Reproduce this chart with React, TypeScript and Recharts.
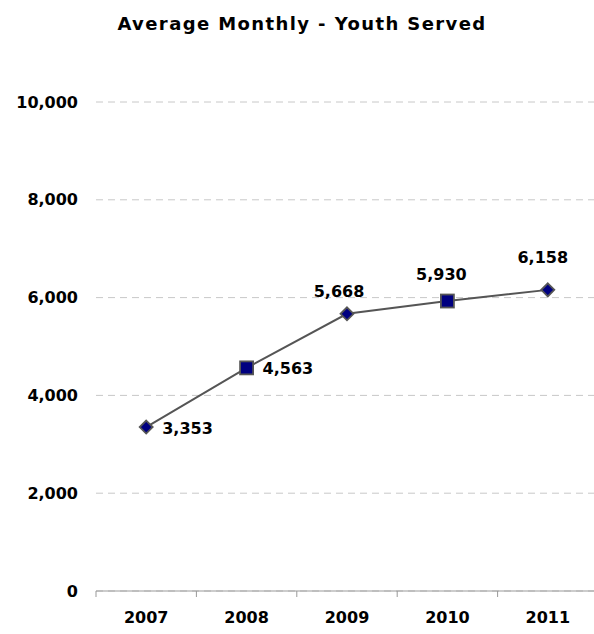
import React from "react";
import {
  LineChart,
  Line,
  XAxis,
  YAxis,
  CartesianGrid,
  LabelList,
} from "recharts";

const years = ["2007", "2008", "2009", "2010", "2011"];
const youthServed = [3353, 4563, 5668, 5930, 6158];
const yTicks = [0, 2000, 4000, 6000, 8000, 10000];
const markerShapes = ["diamond", "square", "diamond", "square", "diamond"];

const data = years.map((year, i) => ({ year, value: youthServed[i] }));

const FONT = "'DejaVu Sans', sans-serif";
const CHART_W = 610;
const CHART_H = 634;
const MARGIN = { top: 102, right: 12, bottom: 13, left: 0 };
const Y_AXIS_W = 96;
const BAND = (CHART_W - MARGIN.left - MARGIN.right - Y_AXIS_W) / years.length;

// Label placement per point: first two sit to the right, the rest above
const LABEL_OFFSETS: Array<[number, number, "start" | "middle"]> = [
  [16, 1, "start"],
  [16, 1, "start"],
  [-8, -22, "middle"],
  [-6, -27, "middle"],
  [-5, -32, "middle"],
];

const fmt = (v: number) => v.toLocaleString("en-US");

// Diamond / square markers, alternating by point
const Marker = (props: any) => {
  const { cx, cy, index } = props;
  if (cx == null || cy == null) return null;
  const shape = markerShapes[index];
  if (shape === "square") {
    const s = 6.5;
    return (
      <rect
        x={cx - s}
        y={cy - s}
        width={s * 2}
        height={s * 2}
        fill="#000080"
        stroke="#555555"
        strokeWidth={1.8}
      />
    );
  }
  const d = 6.5;
  return (
    <path
      d={`M${cx},${cy - d}L${cx + d},${cy}L${cx},${cy + d}L${cx - d},${cy}Z`}
      fill="#000080"
      stroke="#555555"
      strokeWidth={1.8}
    />
  );
};

const ValueLabel = (props: any) => {
  const { x, y, value, index } = props;
  const [dx, dy, anchor] = LABEL_OFFSETS[index];
  return (
    <text
      x={x + dx}
      y={y + dy}
      textAnchor={anchor}
      dominantBaseline="central"
      fontFamily={FONT}
      fontWeight="bold"
      fontSize={16}
      fill="#000"
    >
      {fmt(value)}
    </text>
  );
};

// Category label plus boundary tick marks between categories
const XTick = (props: any) => {
  const { x, y, payload, index } = props;
  const axisY = y - 8;
  const left = x - BAND / 2;
  const right = x + BAND / 2;
  return (
    <g>
      <line x1={left} y1={axisY} x2={left} y2={axisY + 6} stroke="#999" />
      {index === years.length - 1 && (
        <line x1={right} y1={axisY} x2={right} y2={axisY + 6} stroke="#999" />
      )}
      <text
        x={x}
        y={y + 24}
        textAnchor="middle"
        fontFamily={FONT}
        fontWeight="bold"
        fontSize={16}
        fill="#000"
      >
        {payload.value}
      </text>
    </g>
  );
};

export default function App() {
  return (
    <div
      style={{
        position: "fixed",
        left: 0,
        top: 0,
        width: 594,
        height: 634,
        overflow: "hidden",
        background: "#fff",
      }}
    >
      <div
        style={{
          position: "absolute",
          left: 0,
          top: 12,
          width: 604,
          textAlign: "center",
          fontFamily: FONT,
          fontWeight: "bold",
          fontSize: 18,
          letterSpacing: 1.4,
          color: "#000",
          lineHeight: "24px",
        }}
      >
        Average Monthly - Youth Served
      </div>
      <LineChart width={CHART_W} height={CHART_H} data={data} margin={MARGIN}>
        <CartesianGrid
          vertical={false}
          stroke="#c8c8c8"
          strokeDasharray="7 5"
        />
        <XAxis
          dataKey="year"
          scale="band"
          axisLine={{ stroke: "#999" }}
          tickLine={false}
          tick={<XTick />}
          height={30}
          interval={0}
        />
        <YAxis
          domain={[0, 10000]}
          ticks={yTicks}
          width={Y_AXIS_W}
          axisLine={false}
          tickLine={false}
          tickMargin={12}
          tickFormatter={fmt}
          tick={{
            fontFamily: FONT,
            fontWeight: "bold",
            fontSize: 16,
            fill: "#000",
          }}
        />
        <Line
          dataKey="value"
          stroke="#555555"
          strokeWidth={2}
          dot={<Marker />}
          activeDot={false}
          isAnimationActive={false}
        >
          <LabelList dataKey="value" content={<ValueLabel />} />
        </Line>
      </LineChart>
    </div>
  );
}
